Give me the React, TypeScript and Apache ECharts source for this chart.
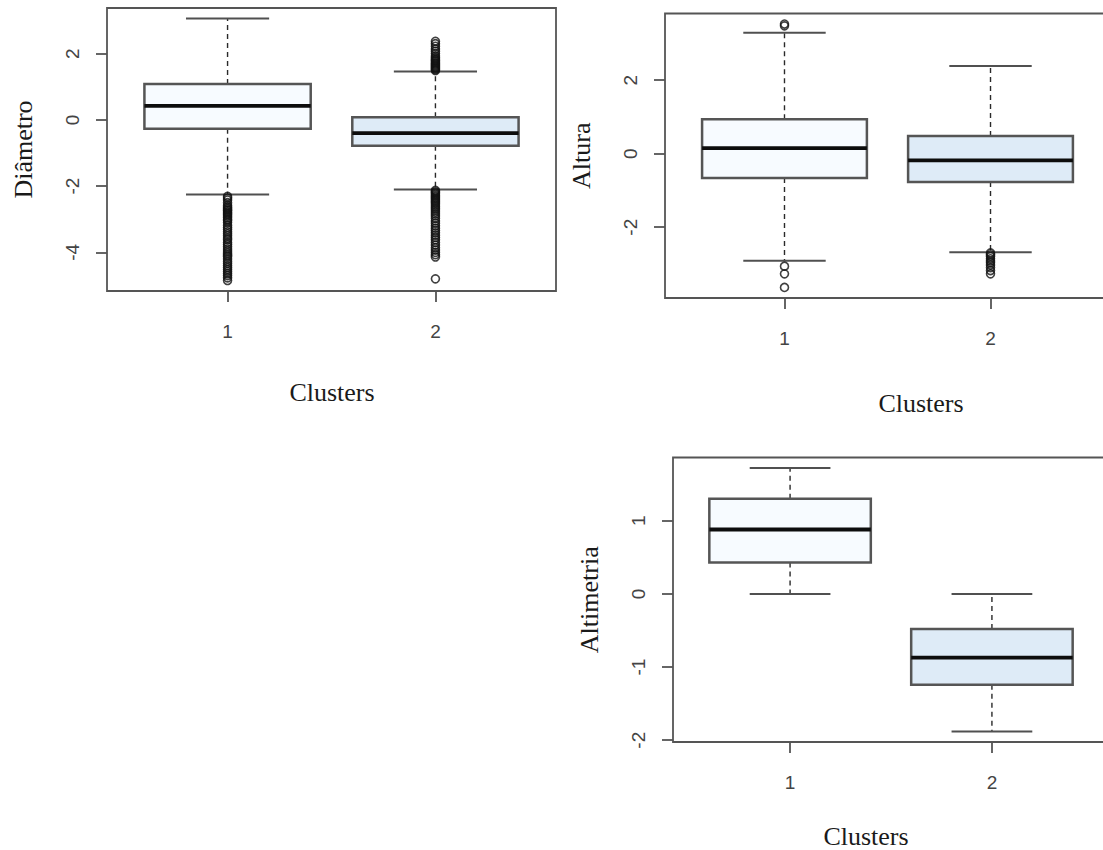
import React, { useEffect, useRef } from "react";
import * as echarts from "echarts";

// Cluster labels on every x axis
const clusters = [1, 2];

// Five-number summaries per cluster: [lower whisker, Q1, median, Q3, upper whisker]
const diametroStats = [
  [-2.25, -0.27, 0.42, 1.08, 3.06],
  [-2.1, -0.78, -0.4, 0.08, 1.46],
];
const alturaStats = [
  [-2.91, -0.66, 0.15, 0.94, 3.29],
  [-2.68, -0.77, -0.18, 0.48, 2.39],
];
const altimetriaStats = [
  [0.0, 0.43, 0.88, 1.3, 1.72],
  [-1.88, -1.24, -0.87, -0.48, 0.0],
];

// Points beyond the whiskers
const diametroOutliers1 = [
  -2.31, -2.36, -2.42, -2.5, -2.58, -2.63, -2.67, -2.71, -2.74, -2.78, -2.82,
  -2.86, -2.9, -2.95, -3.0, -3.04, -3.1, -3.18, -3.25, -3.31, -3.38, -3.44,
  -3.5, -3.57, -3.62, -3.7, -3.76, -3.83, -3.9, -3.96, -4.02, -4.08, -4.13,
  -4.2, -4.27, -4.33, -4.4, -4.46, -4.52, -4.58, -4.64, -4.7, -4.77, -4.85,
];
const diametroOutliers2 = [
  1.49, 1.52, 1.55, 1.58, 1.61, 1.64, 1.67, 1.7, 1.73, 1.77, 1.8, 1.84, 1.88,
  1.93, 2.0, 2.07, 2.14, 2.22, 2.3, 2.37, -2.13, -2.17, -2.2, -2.24, -2.28,
  -2.32, -2.36, -2.4, -2.44, -2.48, -2.52, -2.57, -2.62, -2.67, -2.72, -2.78,
  -2.84, -2.9, -2.97, -3.05, -3.12, -3.2, -3.27, -3.34, -3.41, -3.48, -3.55,
  -3.62, -3.7, -3.78, -3.86, -3.93, -4.0, -4.07, -4.14, -4.8,
];
const alturaOutliers1 = [3.48, 3.53, -3.06, -3.27, -3.64];
const alturaOutliers2 = [
  -2.7, -2.75, -2.8, -2.86, -2.92, -2.97, -3.03, -3.1, -3.18, -3.27,
];
const altimetriaOutliers1: number[] = [];
const altimetriaOutliers2: number[] = [];

// Y tick labels for each panel
const diametroTicks = [-4, -2, 0, 2];
const alturaTicks = [-2, 0, 2];
const altimetriaTicks = [-2, -1, 0, 1];

const xTitle = "Clusters";
const boxFills = ["#F7FBFF", "#DEEBF7"];

const SANS = "'Liberation Sans', Arial, sans-serif";
const SERIF = "'Liberation Serif', 'Times New Roman', serif";

// R-style range: data extent padded by 4% on each side
function paddedRange(stats: number[][], outliers: number[][]) {
  const all = stats.flat().concat(outliers.flat());
  const lo = Math.min(...all);
  const hi = Math.max(...all);
  const pad = (hi - lo) * 0.04;
  return [lo - pad, hi + pad];
}

function renderBox(params: any, api: any) {
  const x = api.value(0);
  const lo = api.value(1);
  const q1 = api.value(2);
  const med = api.value(3);
  const q3 = api.value(4);
  const hi = api.value(5);
  const fill = boxFills[params.dataIndex % boxFills.length];

  const tl = api.coord([x - 0.4, q3]);
  const br = api.coord([x + 0.4, q1]);
  const c = api.coord([x, med]);
  const pHi = api.coord([x, hi]);
  const pLo = api.coord([x, lo]);
  const capL = api.coord([x - 0.2, hi])[0];
  const capR = api.coord([x + 0.2, hi])[0];

  const dash = { stroke: "#2a2a2a", lineWidth: 1.4, lineDash: [5, 4] };
  const cap = { stroke: "#505050", lineWidth: 2 };
  return {
    type: "group",
    children: [
      { type: "line", shape: { x1: c[0], y1: tl[1], x2: c[0], y2: pHi[1] }, style: dash },
      { type: "line", shape: { x1: c[0], y1: br[1], x2: c[0], y2: pLo[1] }, style: dash },
      { type: "line", shape: { x1: capL, y1: pHi[1], x2: capR, y2: pHi[1] }, style: cap },
      { type: "line", shape: { x1: capL, y1: pLo[1], x2: capR, y2: pLo[1] }, style: cap },
      {
        type: "rect",
        shape: { x: tl[0], y: tl[1], width: br[0] - tl[0], height: br[1] - tl[1] },
        style: { fill, stroke: "#555", lineWidth: 2.5 },
      },
      {
        type: "line",
        shape: { x1: tl[0], y1: c[1], x2: br[0], y2: c[1] },
        style: { stroke: "#0d0d0d", lineWidth: 3.8 },
      },
    ],
  };
}

type Panel = {
  title: string;
  stats: number[][];
  outliers: number[][];
  ticks: number[];
  grid: { left: number; top: number; width: number; height: number };
  xTitlePos: [number, number];
};

const panels: Panel[] = [
  {
    title: "Diâmetro",
    stats: diametroStats,
    outliers: [diametroOutliers1, diametroOutliers2],
    ticks: diametroTicks,
    grid: { left: 107, top: 8, width: 449, height: 283 },
    xTitlePos: [332, 392],
  },
  {
    title: "Altura",
    stats: alturaStats,
    outliers: [alturaOutliers1, alturaOutliers2],
    ticks: alturaTicks,
    grid: { left: 665, top: 13.5, width: 445, height: 284.5 },
    xTitlePos: [921, 403],
  },
  {
    title: "Altimetria",
    stats: altimetriaStats,
    outliers: [altimetriaOutliers1, altimetriaOutliers2],
    ticks: altimetriaTicks,
    grid: { left: 673, top: 457.5, width: 436, height: 284.5 },
    xTitlePos: [866, 836],
  },
];

function buildOption() {
  const grid: any[] = [];
  const xAxis: any[] = [];
  const yAxis: any[] = [];
  const series: any[] = [];
  const graphic: any[] = [];

  panels.forEach((p, i) => {
    const [ymin, ymax] = paddedRange(p.stats, p.outliers);
    grid.push({
      ...p.grid,
      show: true,
      borderColor: "#555",
      borderWidth: 1.8,
      backgroundColor: "transparent",
    });
    xAxis.push({
      type: "value",
      gridIndex: i,
      position: "bottom",
      min: 0.42,
      max: 2.58,
      axisLine: { show: false, onZero: false },
      splitLine: { show: false },
      axisTick: {
        show: true,
        inside: false,
        length: 11,
        customValues: clusters,
        lineStyle: { color: "#555", width: 1.8 },
      },
      axisLabel: {
        customValues: clusters,
        margin: 31,
        fontFamily: SANS,
        fontSize: 19,
        color: "#444",
        formatter: (v: number) => String(v),
      },
    });
    yAxis.push({
      type: "value",
      gridIndex: i,
      position: "left",
      min: ymin,
      max: ymax,
      name: p.title,
      nameLocation: "middle",
      nameRotate: 90,
      nameGap: 71,
      nameTextStyle: { fontFamily: SERIF, fontSize: 26, color: "#1a1a1a" },
      axisLine: { show: false, onZero: false },
      splitLine: { show: false },
      axisTick: {
        show: true,
        inside: false,
        length: 11,
        customValues: p.ticks,
        lineStyle: { color: "#555", width: 1.8 },
      },
      axisLabel: {
        customValues: p.ticks,
        rotate: 90,
        margin: 25,
        fontFamily: SANS,
        fontSize: 19,
        color: "#444",
        formatter: (v: number) => String(v),
      },
    });

    graphic.push({
      type: "text",
      x: p.xTitlePos[0],
      y: p.xTitlePos[1],
      style: {
        text: xTitle,
        fontFamily: SERIF,
        fontSize: 26,
        fill: "#1a1a1a",
        align: "center",
        verticalAlign: "middle",
      },
    });

    series.push({
      type: "custom",
      xAxisIndex: i,
      yAxisIndex: i,
      renderItem: renderBox,
      encode: { x: 0, y: [1, 2, 3, 4, 5] },
      data: p.stats.map((s, k) => [clusters[k], ...s]),
      z: 2,
    });
    series.push({
      type: "scatter",
      xAxisIndex: i,
      yAxisIndex: i,
      symbol: "circle",
      symbolSize: 8,
      itemStyle: { color: "rgba(0,0,0,0)", borderColor: "#111", borderWidth: 1.6 },
      data: p.outliers.flatMap((arr, k) => arr.map((v) => [clusters[k], v])),
      z: 3,
    });
  });

  return { animation: false, backgroundColor: "#fff", grid, xAxis, yAxis, series, graphic };
}

export default function App() {
  const ref = useRef<HTMLDivElement>(null);
  useEffect(() => {
    if (!ref.current) return;
    const chart = echarts.init(ref.current, undefined, { renderer: "svg" });
    chart.setOption(buildOption());
    return () => chart.dispose();
  }, []);
  return (
    <div
      style={{
        position: "fixed",
        left: 0,
        top: 0,
        width: 1103,
        height: 850,
        overflow: "hidden",
        background: "#fff",
      }}
    >
      <div ref={ref} style={{ width: 1140, height: 850 }} />
    </div>
  );
}
